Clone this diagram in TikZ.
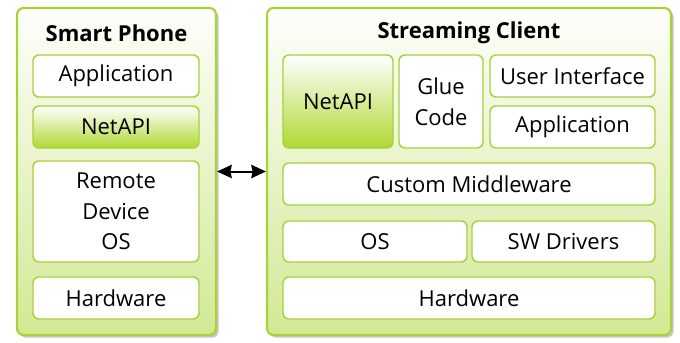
\documentclass[tikz,border=0pt]{standalone}
\usepackage{fontspec}
\setmainfont{Open Sans}
\usetikzlibrary{shadows,arrows.meta}
\definecolor{leafgreen}{HTML}{A6D23A}
\definecolor{palegreen}{HTML}{D2E994}
\definecolor{deepgreen}{HTML}{B0D833}

\begin{document}
\begin{tikzpicture}[x=0.75pt,y=-0.75pt,
                outer/.style={draw=leafgreen,line width=1.6pt,rounded corners=5pt,top color=white!97!palegreen,bottom color=palegreen,drop shadow={shadow xshift=2pt,shadow yshift=-2pt,opacity=0.45}},
                layer/.style={draw=leafgreen,line width=1.1pt,rounded corners=4.5pt,fill=white,inner sep=0pt,align=center,font=\fontsize{16.5}{23}\selectfont},
                netapi/.style={layer,top color=white,bottom color=deepgreen},
                heading/.style={font=\fontsize{16.5}{20}\selectfont\bfseries}]
                \useasboundingbox (0,0) rectangle (680,342);
                \node[outer,minimum width=149.25pt,minimum height=245.25pt] (phone) at (116.5,171.5) {};
                \node[outer,minimum width=303pt,minimum height=245.25pt] (client) at (469,171.5) {};
                \node[heading] (phonetitle) at (116.5,33) {Smart Phone};
                \node[heading] (clienttitle) at (469,33) {Streaming Client};
                % smart phone stack
                \node[layer,minimum width=124.5pt,minimum height=31.5pt] (papp) at (116,76) {Application};
                \node[netapi,minimum width=124.5pt,minimum height=31.5pt] (pnet) at (116,127) {NetAPI};
                \node[layer,minimum width=124.5pt,minimum height=75.75pt] (pos) at (116,211.5) {Remote\\Device\\OS};
                \node[layer,minimum width=124.5pt,minimum height=31.5pt] (phw) at (116,298) {Hardware};
                % streaming client stack
                \node[netapi,minimum width=82.5pt,minimum height=69.75pt] (cnet) at (338,101.5) {NetAPI};
                \node[layer,minimum width=63pt,minimum height=69.75pt] (cglue) at (441,101.5) {Glue\\Code};
                \node[layer,minimum width=123.75pt,minimum height=31.5pt] (cui) at (572.5,76) {User Interface};
                \node[layer,minimum width=123.75pt,minimum height=31.5pt] (capp) at (572.5,127) {Application};
                \node[layer,minimum width=279pt,minimum height=31.5pt] (cmid) at (469,184) {Custom Middleware};
                \node[layer,minimum width=138pt,minimum height=30.75pt] (cos) at (375,241.5) {OS};
                \node[layer,minimum width=137.25pt,minimum height=30.75pt] (cdrv) at (563.5,241.5) {SW Drivers};
                \node[layer,minimum width=279pt,minimum height=31.5pt] (chw) at (469,298) {Hardware};
                \draw[line width=1.5pt,{Stealth[length=11pt,width=10pt,inset=1pt]}-{Stealth[length=11pt,width=10pt,inset=1pt]}] (phone.east) -- (client.west);
            \end{tikzpicture}
\end{document}
